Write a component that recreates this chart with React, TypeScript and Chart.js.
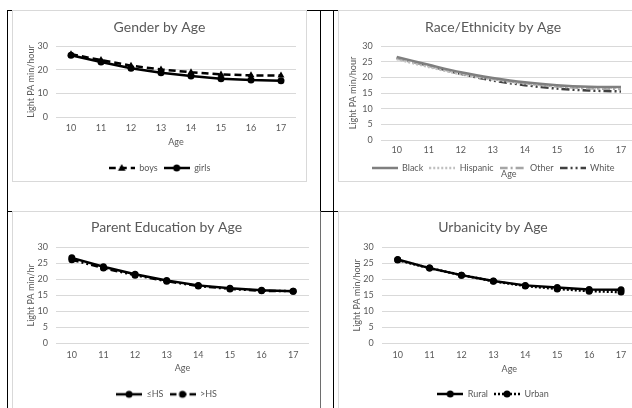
import React, { useEffect, useRef } from 'react';
import { Chart, registerables } from 'chart.js';
Chart.register(...registerables);

const FONT = 'Lato, "Noto Sans", sans-serif';
const TEXT = '#595959';
const GRID = '#d9d9d9';
const TITLE_SIZE = 14;
const TICK_SIZE = 9;
const LEGEND_SIZE = 9;

// ---- data ----
const ages = ['10', '11', '12', '13', '14', '15', '16', '17'];
const boys = [26.5, 24.1, 21.7, 20.1, 18.9, 18.0, 17.6, 17.5];
const girls = [26.1, 23.2, 20.6, 18.7, 17.3, 16.2, 15.6, 15.3];
const black = [26.5, 24.0, 21.6, 19.8, 18.4, 17.5, 17.0, 16.9];
const hispanic = [25.8, 23.3, 21.0, 19.3, 18.0, 17.2, 16.8, 16.7];
const other = [26.0, 23.6, 21.3, 19.5, 18.1, 17.1, 16.5, 16.3];
const white = [26.2, 23.7, 21.1, 19.0, 17.5, 16.4, 15.8, 15.5];
const lessHS = [26.7, 23.9, 21.6, 19.6, 18.1, 17.2, 16.6, 16.3];
const moreHS = [26.1, 23.5, 21.3, 19.4, 17.9, 17.0, 16.4, 16.3];
const rural = [26.2, 23.5, 21.3, 19.5, 18.1, 17.4, 16.8, 16.7];
const urban = [26.0, 23.5, 21.3, 19.4, 17.9, 17.0, 16.3, 16.0];
const yMin = 0;
const yMax = 30;
const yStep = 5;

type Marker = 'none' | 'circle' | 'triangle';
type Series = { label: string; data: number[]; color: string; width: number; dash: number[]; marker: Marker; radius: number; tension: number };
type Box = { x: number; y: number; w: number; h: number; pl: number; pr: number; pt: number; pb: number; titleY: number; yTitleX: number; xTickY: number; xTitleY: number; legendY: number };

function drawMarker(ctx: CanvasRenderingContext2D, m: Marker, x: number, y: number, r: number) {
  ctx.beginPath();
  if (m === 'circle') {
    ctx.arc(x, y, r, 0, Math.PI * 2);
  } else if (m === 'triangle') {
    ctx.moveTo(x, y - r);
    ctx.lineTo(x + r * 0.95, y + r * 0.7);
    ctx.lineTo(x - r * 0.95, y + r * 0.7);
    ctx.closePath();
  }
  ctx.fill();
}

function makeLegendImage(s: Series, w: number): HTMLCanvasElement {
  const c = document.createElement('canvas');
  c.width = w;
  c.height = 10;
  const ctx = c.getContext('2d')!;
  ctx.strokeStyle = s.color;
  ctx.lineWidth = s.width;
  ctx.setLineDash(s.dash);
  ctx.beginPath();
  ctx.moveTo(0, 5);
  ctx.lineTo(w, 5);
  ctx.stroke();
  ctx.setLineDash([]);
  if (s.marker !== 'none') {
    ctx.fillStyle = s.color;
    drawMarker(ctx, s.marker, w / 2, 5, s.radius);
  }
  return c;
}

const LEGEND_W = 26;
const LEGEND_PAD = 6;

function buildConfig(series: Series[], b: Box, title: string, yTitle: string): any {
  const titleLH = TITLE_SIZE * 1.2;
  const tickLH = TICK_SIZE * 1.2;
  const titlePadTop = b.titleY - b.y - titleLH / 2;
  const titlePadBottom = b.pt - b.y - titleLH - titlePadTop;
  const yWidth = b.pl - b.x;
  const xPadRight = b.x + b.w - b.pr;
  const legendTop = b.legendY - b.y - LEGEND_PAD - LEGEND_SIZE / 2;
  const legendH = LEGEND_SIZE + LEGEND_PAD + 10;
  const padBottom = b.h - legendTop - legendH;
  const xHeight = legendTop - (b.pb - b.y);
  const xTickPad = b.xTickY - b.pb - tickLH / 2;
  const xTitlePadBottom = legendTop - (b.xTitleY - b.y) - tickLH / 2;
  const yTitlePadTop = b.yTitleX - b.x - tickLH / 2;
  const imgs = series.map((s) => makeLegendImage(s, LEGEND_W));
  const font = { family: FONT, size: TICK_SIZE };
  return {
    type: 'line',
    data: {
      labels: ages,
      datasets: series.map((s) => ({
        label: s.label,
        data: s.data,
        borderColor: s.color,
        backgroundColor: s.color,
        borderWidth: s.width,
        borderDash: s.dash,
        pointStyle: s.marker === 'none' ? false : s.marker,
        pointRadius: s.marker === 'none' ? 0 : s.radius,
        pointBackgroundColor: s.color,
        pointBorderColor: s.color,
        pointBorderWidth: 0,
        tension: s.tension,
        fill: false,
      })),
    },
    options: {
      responsive: false,
      animation: false,
      events: [],
      layout: { padding: { left: 0, right: 0, top: 0, bottom: padBottom } },
      plugins: {
        title: {
          display: true,
          text: title,
          color: TEXT,
          font: { family: FONT, size: TITLE_SIZE, weight: 'normal' },
          padding: { top: titlePadTop, bottom: titlePadBottom },
        },
        legend: {
          display: true,
          position: 'bottom',
          labels: {
            usePointStyle: true,
            pointStyleWidth: LEGEND_W,
            padding: LEGEND_PAD,
            color: TEXT,
            font: { family: FONT, size: LEGEND_SIZE },
            generateLabels: (chart: any) =>
              chart.data.datasets.map((ds: any, i: number) => ({
                text: ds.label,
                pointStyle: imgs[i],
                fillStyle: 'rgba(0,0,0,0)',
                strokeStyle: 'rgba(0,0,0,0)',
                lineWidth: 0,
                hidden: false,
                datasetIndex: i,
                fontColor: TEXT,
              })),
          },
        },
        tooltip: { enabled: false },
      },
      scales: {
        x: {
          type: 'category',
          offset: true,
          grid: { display: false, drawTicks: false },
          border: { display: false },
          ticks: { padding: xTickPad, color: TEXT, font, maxRotation: 0, autoSkip: false },
          title: { display: true, text: 'Age', color: TEXT, font, padding: { top: 0, bottom: xTitlePadBottom } },
          afterFit: (s: any) => {
            s.height = xHeight;
            s.paddingRight = xPadRight;
            s.paddingLeft = 0;
          },
        },
        y: {
          min: yMin,
          max: yMax,
          grid: { color: GRID, lineWidth: 1, drawTicks: false },
          border: { display: false },
          ticks: { stepSize: yStep, padding: 8, color: TEXT, font },
          title: { display: true, text: yTitle, color: TEXT, font, padding: { top: yTitlePadTop, bottom: 0 } },
          afterFit: (s: any) => {
            s.width = yWidth;
          },
        },
      },
    },
  };
}

function ChartBox(props: { box: Box; series: Series[]; title: string; yTitle: string }) {
  const ref = useRef<HTMLCanvasElement | null>(null);
  const { box, series, title, yTitle } = props;
  useEffect(() => {
    if (!ref.current) return;
    const chart = new Chart(ref.current, buildConfig(series, box, title, yTitle));
    return () => chart.destroy();
  }, []);
  return (
    <>
      <canvas
        ref={ref}
        width={box.w}
        height={box.h}
        style={{ position: 'absolute', left: box.x, top: box.y, width: box.w, height: box.h, background: '#fff' }}
      />
      <div
        style={{
          position: 'absolute',
          left: box.x,
          top: box.y,
          width: box.w,
          height: box.h,
          border: '1px solid #d9d9d9',
          boxSizing: 'border-box',
          pointerEvents: 'none',
        }}
      />
    </>
  );
}

const genderSeries: Series[] = [
  { label: 'boys', data: boys, color: '#000000', width: 2.5, dash: [7, 4], marker: 'triangle', radius: 4, tension: 0 },
  { label: 'girls', data: girls, color: '#000000', width: 2.5, dash: [], marker: 'circle', radius: 3.5, tension: 0 },
];
const raceSeries: Series[] = [
  { label: 'Black', data: black, color: '#7f7f7f', width: 2.5, dash: [], marker: 'none', radius: 0, tension: 0.3 },
  { label: 'Hispanic', data: hispanic, color: '#bfbfbf', width: 2.5, dash: [2, 2], marker: 'none', radius: 0, tension: 0.3 },
  { label: 'Other', data: other, color: '#a5a5a5', width: 2.5, dash: [8, 3, 2, 3], marker: 'none', radius: 0, tension: 0.3 },
  { label: 'White', data: white, color: '#404040', width: 2.5, dash: [8, 3, 2, 3, 2, 3], marker: 'none', radius: 0, tension: 0.3 },
];
const eduSeries: Series[] = [
  { label: '≤HS', data: lessHS, color: '#000000', width: 2.5, dash: [], marker: 'circle', radius: 3.5, tension: 0 },
  { label: '>HS', data: moreHS, color: '#000000', width: 2.5, dash: [7, 3, 2, 3, 2, 3], marker: 'circle', radius: 3.5, tension: 0 },
];
const urbanSeries: Series[] = [
  { label: 'Rural', data: rural, color: '#000000', width: 2.5, dash: [], marker: 'circle', radius: 3.5, tension: 0 },
  { label: 'Urban', data: urban, color: '#000000', width: 2.5, dash: [2, 2], marker: 'circle', radius: 3.5, tension: 0 },
];

const box1: Box = { x: 12, y: 10, w: 295, h: 172, pl: 56, pr: 296, pt: 46, pb: 117, titleY: 27, yTitleX: 30.7, xTickY: 128, xTitleY: 142, legendY: 168 };
const box2: Box = { x: 338, y: 10, w: 310, h: 172, pl: 380.7, pr: 637, pt: 46, pb: 140, titleY: 27, yTitleX: 353, xTickY: 150, xTitleY: 174, legendY: 168 };
const box3: Box = { x: 12, y: 211, w: 309, h: 210, pl: 56, pr: 309, pt: 247.3, pb: 343.3, titleY: 227.3, yTitleX: 31, xTickY: 355, xTitleY: 368.3, legendY: 394.3 };
const box4: Box = { x: 338, y: 211, w: 310, h: 210, pl: 381.7, pr: 637, pt: 247.3, pb: 343.3, titleY: 227.3, yTitleX: 356.7, xTickY: 355, xTitleY: 369, legendY: 394 };

function Line(props: { x: number; y: number; w: number; h: number; c?: string }) {
  return <div style={{ position: 'absolute', left: props.x, top: props.y, width: props.w, height: props.h, background: props.c || '#000' }} />;
}

export default function App() {
  return (
    <div style={{ position: 'fixed', left: 0, top: 0, width: 632, height: 408, overflow: 'hidden', background: '#fff' }}>
      <Line x={7} y={10} w={1} h={398} />
      <Line x={7} y={10} w={625} h={1} />
      <Line x={320} y={10} w={1} h={202} />
      <Line x={333} y={10} w={1} h={398} />
      <Line x={7} y={211} w={625} h={1} />
      <ChartBox box={box1} series={genderSeries} title="Gender by Age" yTitle="Light PA min/hour" />
      <ChartBox box={box2} series={raceSeries} title="Race/Ethnicity by Age" yTitle="Light PA min/hour" />
      <ChartBox box={box3} series={eduSeries} title="Parent Education by Age" yTitle="Light PA min/hr" />
      <ChartBox box={box4} series={urbanSeries} title="Urbanicity by Age" yTitle="Light PA min/hour" />
      <Line x={320} y={211} w={1} h={197} c="#6e6e6e" />
    </div>
  );
}
